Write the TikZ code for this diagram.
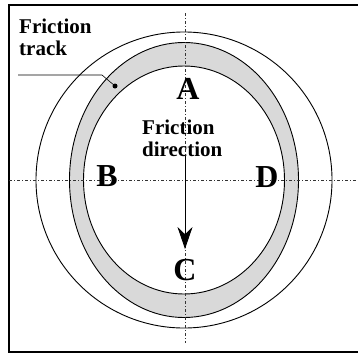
\documentclass[tikz,border=0pt]{standalone}
\usepackage{fontspec}
\setmainfont{Liberation Serif}
\usetikzlibrary{arrows.meta, positioning}

\begin{document}
\begin{tikzpicture}[x=1pt, y=-1pt,
    outline/.style={draw=black, line width=0.9pt},
    track/.style={fill=black!15, even odd rule},
    axis/.style={draw=black!80, line width=0.6pt, dash pattern=on 3pt off 2pt on 1pt off 2pt},
    letter/.style={font=\fontsize{32}{32}\selectfont\bfseries, inner sep=0pt},
    caption/.style={font=\fontsize{21}{22}\selectfont\bfseries, align=left, inner sep=0pt},
    conn/.style={-{Stealth[length=22pt, width=15pt]}, line width=0.9pt}
]
    \useasboundingbox (0,0) rectangle (358,356);

    % Frame
    \draw[line width=1.2pt] (358,5) -- (9,5) -- (9,352) -- (358,352);

    % Centre and axes
    \coordinate (centre) at (184,180);
    \coordinate (axisW) at (9,180);
    \coordinate (axisE) at (358,180);
    \coordinate (axisN) at (185,13);
    \coordinate (axisS) at (185,343);

    % Friction track and outer ring
    \fill[track] (centre) ellipse [x radius=114.5, y radius=137.5]
                 (centre) ellipse [x radius=100.5, y radius=114];
    \draw[outline] (centre) ellipse [x radius=114.5, y radius=137.5];
    \draw[outline] (centre) ellipse [x radius=100.5, y radius=114];
    \draw[outline] (centre) circle [radius=148];

    \draw[axis] (axisW) -- (axisE);
    \draw[axis] (axisN) -- (axisS);

    % Points on the track
    \node[letter] (A) at (188,89) {A};
    \node[letter] (B) at (107,176) {B};
    \node[letter] (C) at (185,270) {C};
    \node[letter] (D) at (267,177) {D};

    % Direction
    \node[caption, anchor=base west] (dir) at (142,156) {Friction\\direction};
    \draw[conn] (dir.south -| C.north) -- ([yshift=10pt]C.north);

    % Track label
    \node[caption, anchor=base west] (label) at (19,55) {Friction\\track};
    \node[circle, fill=black, inner sep=0pt, minimum size=5pt] (spot) at (115,86) {};
    \coordinate (leadstart) at (18,75);
    \coordinate (bend) at (102,75);
    \draw[line width=0.6pt] (leadstart) -- (bend) -- (spot);

\end{tikzpicture}
\end{document}
